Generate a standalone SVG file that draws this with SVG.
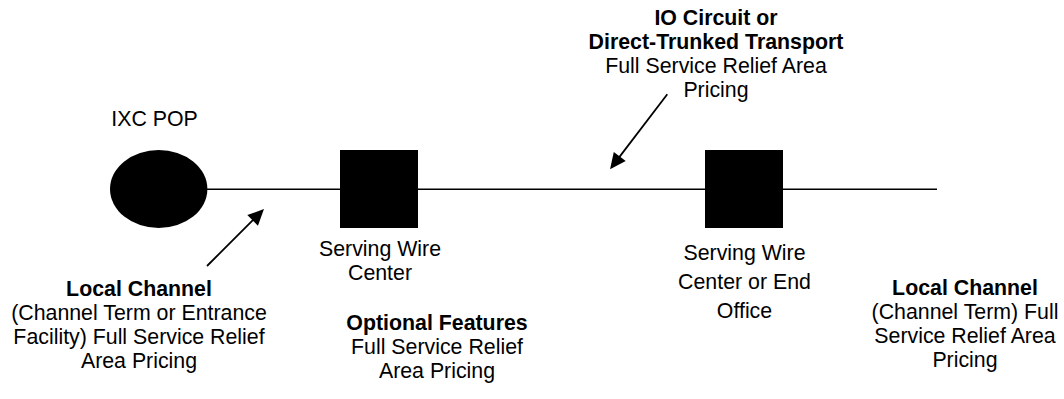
<svg xmlns="http://www.w3.org/2000/svg" width="1064" height="399" viewBox="0 0 1064 399">
  <style>
    text { font-family: "Liberation Sans", Arial, Helvetica, sans-serif; font-size: 21.33px; fill: #000; }
    .c { text-anchor: middle; }
    .b { font-weight: bold; }
    .shape { fill: #000; stroke: none; }
    .wire { stroke: #000; stroke-width: 1.6; fill: none; }
    .pointer { stroke: #000; stroke-width: 1.8; fill: none; marker-end: url(#head); }
  </style>
  <defs>
    <marker id="head" markerUnits="userSpaceOnUse" markerWidth="17" markerHeight="17" refX="8" refY="7.5" orient="auto" overflow="visible">
      <path d="M0,0 L16,7.5 L0,15 Z" fill="#000"/>
    </marker>
  </defs>
  <rect width="1064" height="399" fill="#fff"/>

  <g id="connectors">
    <line class="wire" x1="207" y1="189.3" x2="937" y2="189.3"/>
    <line class="pointer" x1="207" y1="266" x2="258.3" y2="214.7"/>
    <line class="pointer" x1="667.3" y1="94.3" x2="614.9" y2="162.9"/>
  </g>

  <g id="ixc-pop">
    <ellipse class="shape" cx="158.7" cy="189" rx="48.7" ry="39"/>
    <text x="154.5" y="126" class="c">IXC POP</text>
  </g>

  <g id="serving-wire-center">
    <rect class="shape" x="340" y="150" width="78" height="78"/>
    <text class="c" x="380" y="256">Serving Wire</text>
    <text class="c" x="380" y="280">Center</text>
  </g>

  <g id="serving-wire-center-end-office">
    <rect class="shape" x="705" y="150" width="78" height="78"/>
    <text class="c" x="744.5" y="260">Serving Wire</text>
    <text class="c" x="744.5" y="289">Center or End</text>
    <text class="c" x="744.5" y="318">Office</text>
  </g>

  <g id="label-io-circuit">
    <text class="c b" x="716" y="25">IO Circuit or</text>
    <text class="c b" x="716" y="49">Direct-Trunked Transport</text>
    <text class="c" x="716" y="73">Full Service Relief Area</text>
    <text class="c" x="716" y="97">Pricing</text>
  </g>

  <g id="label-local-channel-left">
    <text class="c b" x="139" y="296">Local Channel</text>
    <text class="c" x="139" y="320">(Channel Term or Entrance</text>
    <text class="c" x="139" y="344">Facility) Full Service Relief</text>
    <text class="c" x="139" y="368">Area Pricing</text>
  </g>

  <g id="label-optional-features">
    <text class="c b" x="437" y="330">Optional Features</text>
    <text class="c" x="437" y="354">Full Service Relief</text>
    <text class="c" x="437" y="378">Area Pricing</text>
  </g>

  <g id="label-local-channel-right">
    <text class="c b" x="965" y="295">Local Channel</text>
    <text class="c" x="965" y="319">(Channel Term) Full</text>
    <text class="c" x="965" y="343">Service Relief Area</text>
    <text class="c" x="965" y="367">Pricing</text>
  </g>
</svg>
